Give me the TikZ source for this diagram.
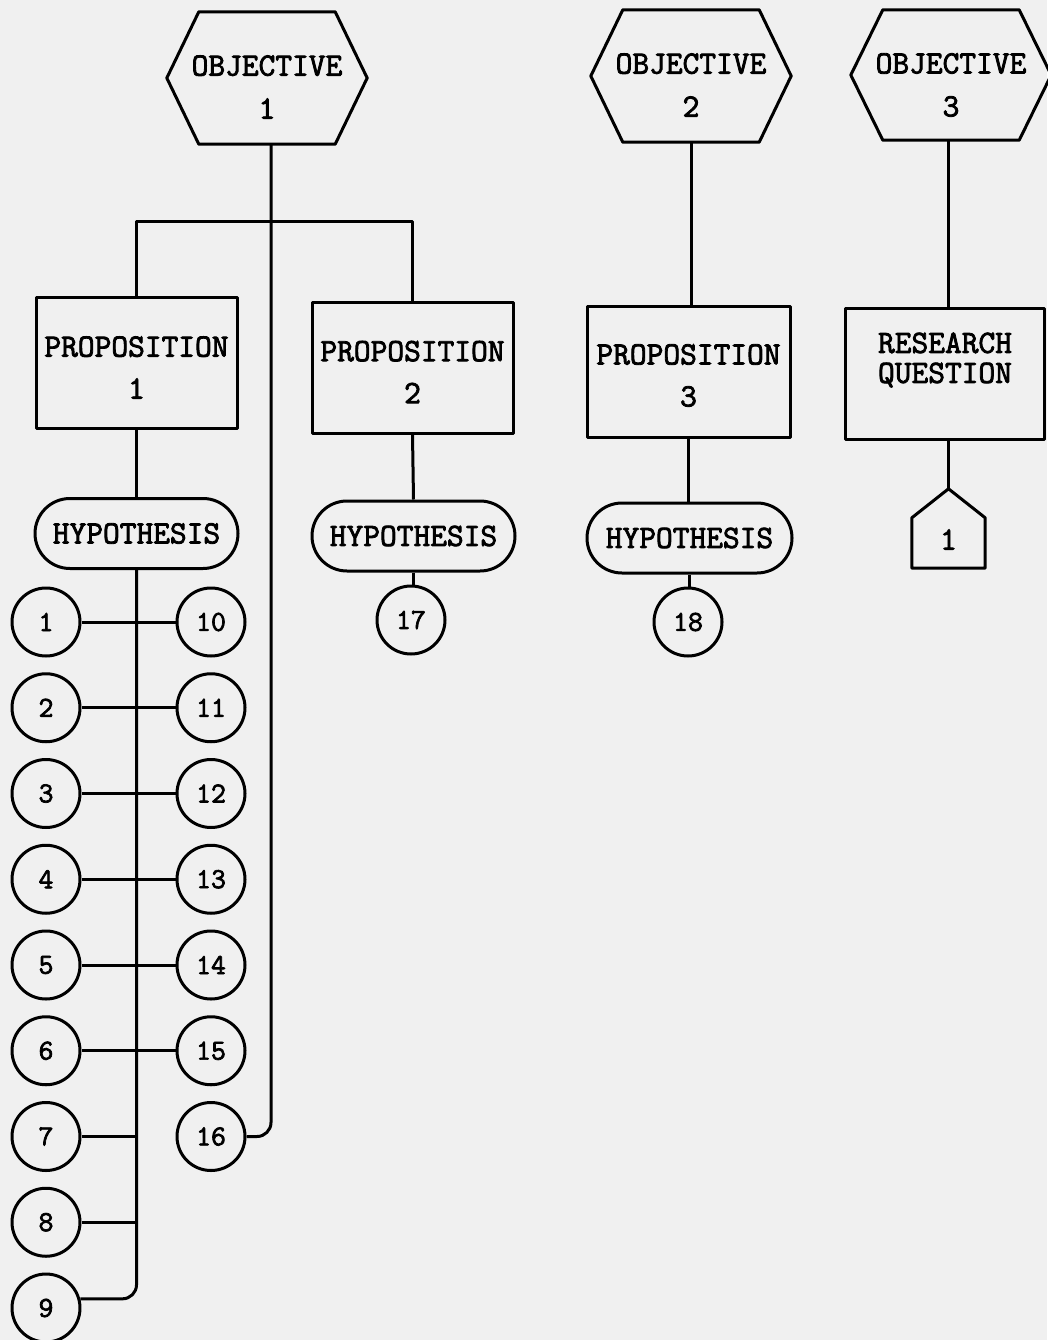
\documentclass[tikz,border=0pt]{standalone}
\usepackage{fontspec}
\setmonofont{Latin Modern Mono}[AutoFakeBold=2.5]
\usetikzlibrary{shapes.misc}
\newcommand{\drawhex}[1]{\draw[ln] (#1.west) -- ([xshift=32pt]#1.north west) -- ([xshift=-32pt]#1.north east) -- (#1.east) -- ([xshift=-32pt]#1.south east) -- ([xshift=32pt]#1.south west) -- cycle;}
\tikzset{
  ln/.style={line width=3pt, line join=round},
  txt/.style={font=\ttfamily\bfseries\fontsize{32.5pt}{36pt}\selectfont, align=center, inner sep=0pt},
  hexa/.style={rectangle, minimum width=200pt, minimum height=132pt, inner sep=0pt},
  box/.style={draw, ln, rectangle, minimum width=201pt, minimum height=131pt, inner sep=0pt},
  stad/.style={draw, ln, rounded rectangle, minimum width=203pt, minimum height=70pt, inner sep=0pt, txt},
  num/.style={draw, ln, circle, minimum size=68pt, inner sep=0pt, font=\ttfamily\bfseries\fontsize{29pt}{32pt}\selectfont},
  pentbox/.style={rectangle, minimum width=73pt, minimum height=79pt, inner sep=0pt}
}
\begin{document}
\begin{tikzpicture}[x=1pt,y=-1pt]
\useasboundingbox (0,0) rectangle (1047,1340);
\fill[black!6] (0,0) rectangle (1047,1340);
% objectives
\node[hexa, label={[txt,yshift=-9pt]center:{OBJECTIVE\\[7pt]1}}] (o1) at (267,78) {};
\node[hexa, label={[txt,yshift=-9pt]center:{OBJECTIVE\\[7pt]2}}] (o2) at (691,76) {};
\node[hexa, minimum height=130pt, label={[txt,yshift=-10pt]center:{OBJECTIVE\\[7pt]3}}] (o3) at (951,75) {};
\drawhex{o1}\drawhex{o2}\drawhex{o3}
% propositions
\node[box, label={[txt,yshift=-5pt]center:{PROPOSITION\\[6pt]1}}] (p1) at (136.5,362.5) {};
\node[box, label={[txt,yshift=-4pt]center:{PROPOSITION\\[6pt]2}}] (p2) at (412.5,368) {};
\node[box, minimum width=203pt, label={[txt,yshift=-4pt]center:{PROPOSITION\\[6pt]3}}] (p3) at (688.5,371.5) {};
\node[box, minimum width=199pt, label={[txt,yshift=14pt]center:{RESEARCH\\[-6pt]QUESTION}}] (rq) at (945,374) {};
% hypotheses
\node[stad] (h1) at (136.5,533.5) {HYPOTHESIS};
\node[stad] (h2) at (413.5,536) {HYPOTHESIS};
\node[stad, minimum width=205pt] (h3) at (689.5,538) {HYPOTHESIS};
% pentagon
\node[pentbox, label={[txt,yshift=-11pt]center:1}] (pt) at (948.5,528.5) {};
\draw[ln] (pt.north) -- ([yshift=-29pt]pt.north east) -- (pt.south east) -- (pt.south west) -- ([yshift=-29pt]pt.north west) -- cycle;
% numbered circles
\foreach \i in {1,...,9} \node[num] (c\i) at (46,{622+85.75*(\i-1)}) {\i};
\foreach \i in {10,...,16} \node[num] (c\i) at (211,{622+85.75*(\i-10)}) {\i};
\node[num] (c17) at (411,620) {17};
\node[num] (c18) at (688,622) {18};
% connectors
\coordinate (o1b) at ([xshift=4pt]o1.south);
\coordinate (j1) at (o1b |- 0,222);
\draw[ln, rounded corners=14pt] (o1b) |- (c16.east);
\draw[ln] (p1.north) |- (j1) -| (p2.north);
\draw[ln] (p1.south) -- (h1.north);
\draw[ln, rounded corners=14pt] (h1.south) |- (c9.15);
\foreach \a/\b in {1/10,2/11,3/12,4/13,5/14,6/15} \draw[ln] (c\a.east) -- (c\b.west);
\foreach \a in {7,8} \draw[ln] (c\a.east) -- (c\a.east -| h1.south);
\draw[ln] (p2.south) -- (h2.north);
\draw[ln] (h2.south) -- (h2.south |- c17.north);
\draw[ln] (o2.south) -- (o2.south |- p3.north);
\draw[ln] (p3.south) -- (p3.south |- h3.north);
\draw[ln] (h3.south) -- (h3.south |- c18.north);
\draw[ln] (pt.north |- o3.south) -- (pt.north |- rq.north);
\draw[ln] (pt.north |- rq.south) -- (pt.north);
\end{tikzpicture}
\end{document}
